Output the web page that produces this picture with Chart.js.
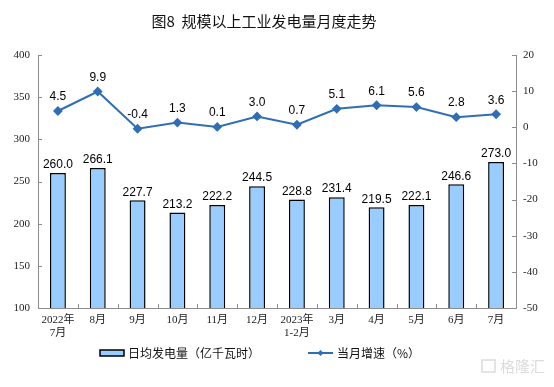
<!DOCTYPE html>
<html lang="zh">
<head>
    <meta charset="UTF-8">
    <title>规模以上工业发电量月度走势</title>
    <script src="https://cdn.jsdelivr.net/npm/chart.js"></script>
    <style>
        body { margin: 0; background: #fff; }
        #wrap { width: 554px; height: 387px; position: relative; }
    </style>
</head>
<body>
    <div id="wrap"><canvas id="powerChart"></canvas></div>

    <script>
        // data
        const months = [['2022年', '7月'], '8月', '9月', '10月', '11月', '12月', ['2023年', '1-2月'], '3月', '4月', '5月', '6月', '7月'];
        const dailyOutput = [260.0, 266.1, 227.7, 213.2, 222.2, 244.5, 228.8, 231.4, 219.5, 222.1, 246.6, 273.0];
        const growthRate = [4.5, 9.9, -0.4, 1.3, 0.1, 3.0, 0.7, 5.1, 6.1, 5.6, 2.8, 3.6];
        const titleText = '图8  规模以上工业发电量月度走势';
        const barLabel = '日均发电量（亿千瓦时）';
        const lineLabel = '当月增速（%）';

        const barFill = '#99CCFF';
        const lineBlue = '#2F6EB5';
        const axisGray = '#8c8c8c';
        const cjk = '"Noto Sans CJK SC", sans-serif';

        // labels, title, legend and the small inward tick marks
        const extras = {
            id: 'extras',
            afterDatasetsDraw(chart) {
                const ctx = chart.ctx;
                ctx.save();
                ctx.fillStyle = '#000';
                ctx.textAlign = 'center';
                ctx.textBaseline = 'bottom';
                ctx.font = '12px "Liberation Sans", Arial, sans-serif';
                chart.getDatasetMeta(0).data.forEach((el, i) => {
                    ctx.fillText(dailyOutput[i].toFixed(1), el.x, el.y - 2);
                });
                chart.getDatasetMeta(1).data.forEach((el, i) => {
                    ctx.fillText(growthRate[i].toFixed(1), el.x, el.y - 8);
                });
                ctx.restore();
            },
            afterDraw(chart) {
                const ctx = chart.ctx;
                const area = chart.chartArea;
                ctx.save();

                // tick marks pointing into the plot
                ctx.strokeStyle = axisGray;
                ctx.lineWidth = 1;
                ctx.beginPath();
                const yl = chart.scales.y, yr = chart.scales.y1;
                yl.ticks.forEach(t => {
                    const y = Math.round(yl.getPixelForValue(t.value)) + 0.5;
                    ctx.moveTo(area.left, y); ctx.lineTo(area.left + 4, y);
                });
                yr.ticks.forEach(t => {
                    const y = Math.round(yr.getPixelForValue(t.value)) + 0.5;
                    ctx.moveTo(area.right - 4, y); ctx.lineTo(area.right, y);
                });
                const step = (area.right - area.left) / months.length;
                for (let i = 1; i < months.length; i++) {
                    const x = Math.round(area.left + step * i) + 0.5;
                    ctx.moveTo(x, area.bottom); ctx.lineTo(x, area.bottom - 4);
                }
                ctx.stroke();

                // title
                ctx.fillStyle = '#111';
                ctx.textAlign = 'center';
                ctx.textBaseline = 'middle';
                ctx.font = '400 15px ' + cjk;
                ctx.fillText(titleText, 264, 21);

                // legend
                ctx.font = '12px ' + cjk;
                ctx.textAlign = 'left';
                ctx.fillStyle = barFill;
                ctx.fillRect(100, 350, 24, 6);
                ctx.strokeStyle = '#000';
                ctx.lineWidth = 1.5;
                ctx.strokeRect(100, 350, 24, 6);
                ctx.fillStyle = '#111';
                ctx.fillText(barLabel, 128, 353);

                ctx.strokeStyle = lineBlue;
                ctx.lineWidth = 2;
                ctx.beginPath();
                ctx.moveTo(308, 353); ctx.lineTo(333, 353);
                ctx.stroke();
                ctx.fillStyle = lineBlue;
                ctx.beginPath();
                ctx.moveTo(320.5, 350); ctx.lineTo(323.5, 353); ctx.lineTo(320.5, 356); ctx.lineTo(317.5, 353);
                ctx.fill();
                ctx.fillStyle = '#111';
                ctx.fillText(lineLabel, 337, 353);

                // watermark
                ctx.strokeStyle = '#dcdcdc';
                ctx.lineWidth = 1.5;
                ctx.strokeRect(482, 360, 13, 12);
                ctx.fillStyle = '#dcdcdc';
                ctx.font = '15px ' + cjk;
                ctx.fillText('格隆汇', 500, 366);
                ctx.restore();
            }
        };

        const ctx = document.getElementById('powerChart').getContext('2d');
        new Chart(ctx, {
            data: {
                labels: months,
                datasets: [{
                    type: 'bar',
                    label: barLabel,
                    data: dailyOutput,
                    yAxisID: 'y',
                    backgroundColor: barFill,
                    borderColor: '#000',
                    borderWidth: 1.5,
                    barPercentage: 0.8,
                    categoryPercentage: 0.5,
                    order: 2
                }, {
                    type: 'line',
                    label: lineLabel,
                    data: growthRate,
                    yAxisID: 'y1',
                    borderColor: lineBlue,
                    backgroundColor: lineBlue,
                    borderWidth: 2,
                    pointStyle: 'rectRot',
                    pointRadius: 3.5,
                    tension: 0,
                    order: 1
                }]
            },
            options: {
                responsive: true,
                maintainAspectRatio: false,
                animation: false,
                layout: { padding: { top: 55, left: 0, right: 0, bottom: 0 } },
                plugins: {
                    legend: { display: false },
                    tooltip: { enabled: false }
                },
                scales: {
                    x: {
                        grid: { display: false, drawTicks: false },
                        border: { color: axisGray },
                        ticks: {
                            color: '#222',
                            padding: 6,
                            maxRotation: 0,
                            autoSkip: false,
                            font: { family: '"Liberation Serif", "Noto Sans CJK SC", serif', size: 11, lineHeight: 1.15 }
                        },
                        afterFit: s => { s.height = 79; }
                    },
                    y: {
                        position: 'left',
                        min: 100,
                        max: 400,
                        grid: { display: false, drawTicks: false },
                        border: { color: axisGray },
                        ticks: {
                            stepSize: 50,
                            padding: 8,
                            color: '#222',
                            font: { family: '"Liberation Serif", serif', size: 11 }
                        },
                        afterFit: s => { s.width = 38; }
                    },
                    y1: {
                        position: 'right',
                        min: -50,
                        max: 20,
                        grid: { display: false, drawTicks: false },
                        border: { color: axisGray },
                        ticks: {
                            stepSize: 10,
                            padding: 7,
                            color: '#222',
                            font: { family: '"Liberation Serif", serif', size: 11 }
                        },
                        afterFit: s => { s.width = 38; }
                    }
                }
            },
            plugins: [extras]
        });
    </script>
</body>
</html>
